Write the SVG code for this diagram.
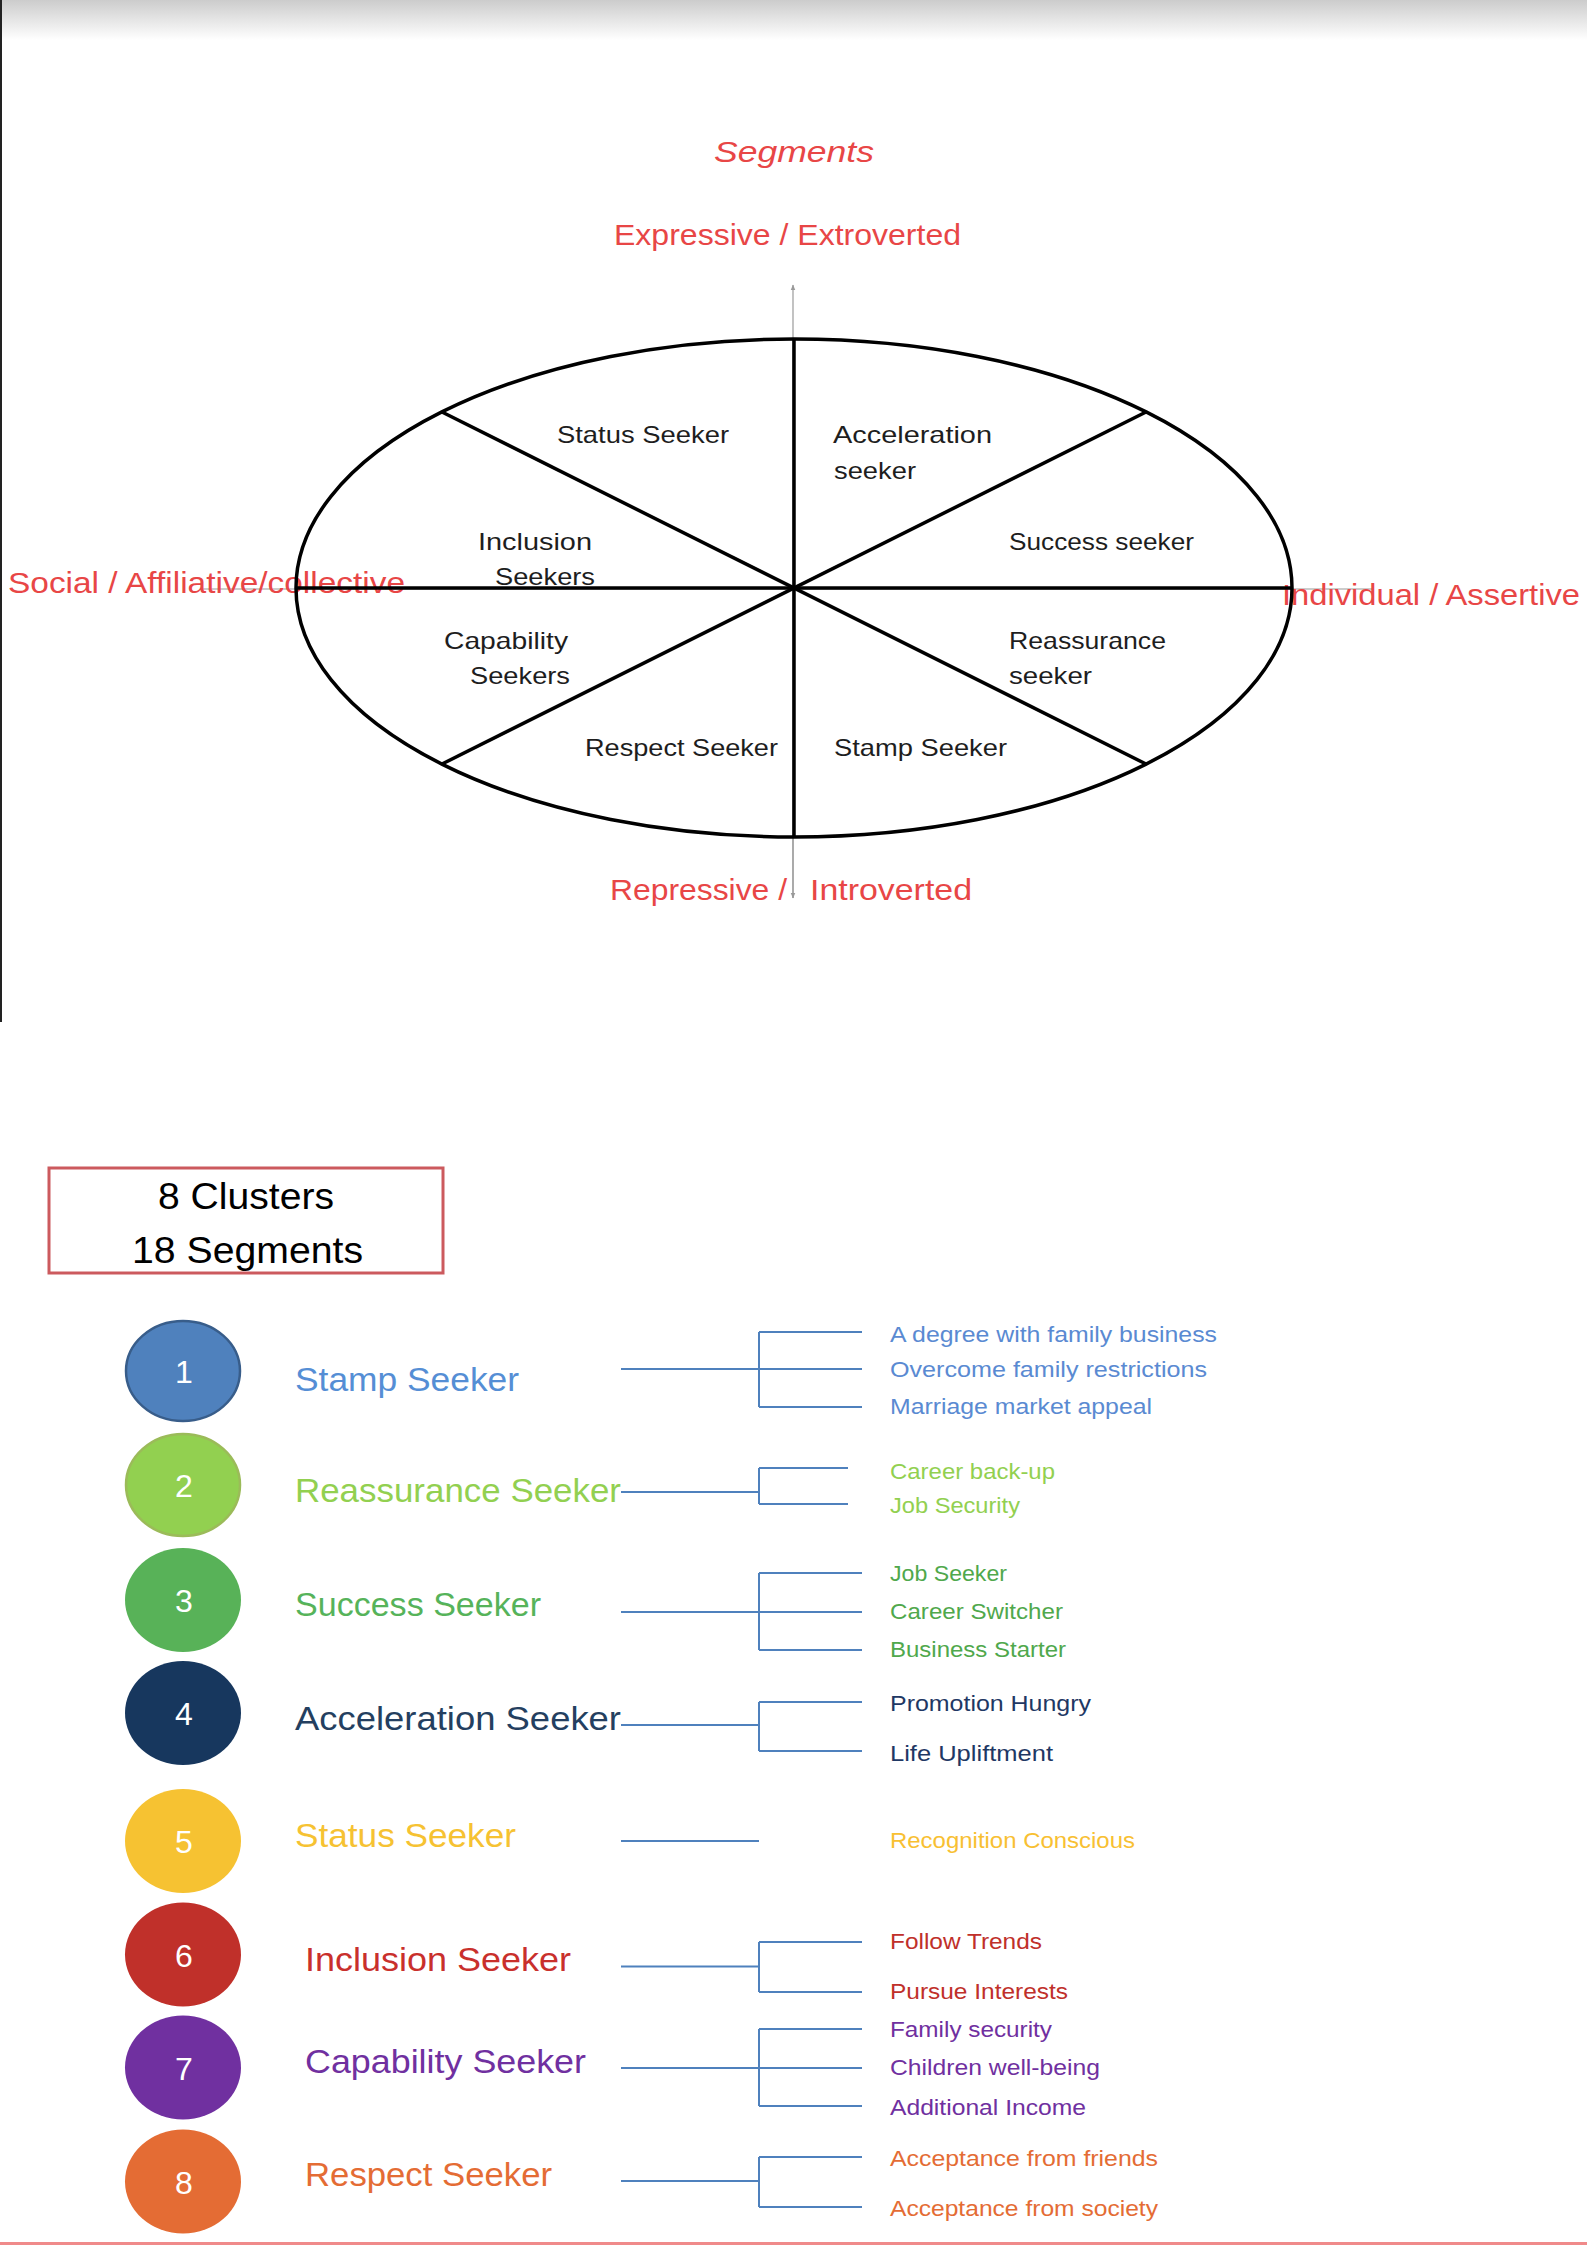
<svg xmlns="http://www.w3.org/2000/svg" width="1587" height="2245" viewBox="0 0 1587 2245">
<defs>
  <linearGradient id="topfade" x1="0" y1="0" x2="0" y2="1">
    <stop offset="0" stop-color="#cccccc"/>
    <stop offset="1" stop-color="#ffffff"/>
  </linearGradient>
  <marker id="garrow" viewBox="0 0 10 10" refX="9" refY="5" markerWidth="6" markerHeight="8" orient="auto" markerUnits="userSpaceOnUse">
    <path d="M0,1 L10,5 L0,9 Z" fill="#999999"/>
  </marker>
</defs>
<style>
  .ax { font-family: "Liberation Sans", Arial, sans-serif; font-size: 30px; fill: #E84646; }
  .seg { font-family: "Liberation Sans", Arial, sans-serif; font-size: 24px; fill: #1e1e1e; }
  .lbl { font-family: "Liberation Sans", Arial, sans-serif; font-size: 34px; }
  .sub { font-family: "Liberation Sans", Arial, sans-serif; font-size: 22px; }
  .num { font-family: "Liberation Sans", Arial, sans-serif; font-size: 32px; fill: #ffffff; text-anchor: middle; }
  .box { font-family: "Liberation Sans", Arial, sans-serif; font-size: 36px; fill: #000000; }
  .thick { stroke: #000000; fill: none; stroke-width: 3.5; }
  .thin { stroke: #9a9a9a; fill: none; stroke-width: 1.2; }
  .con { stroke: #4F81BD; fill: none; stroke-width: 2; }
</style>
<rect x="0" y="0" width="1587" height="2245" fill="#ffffff"/>
<rect x="0" y="0" width="1587" height="40" fill="url(#topfade)"/>
<line x1="1" y1="0" x2="1" y2="1022" stroke="#222222" stroke-width="2"/>

<g id="title">
  <text class="ax" x="714" y="162" font-style="italic" font-size="34" textLength="160" lengthAdjust="spacingAndGlyphs">Segments</text>
</g>

<g id="axes">
  <line class="thin" x1="793" y1="898" x2="793" y2="285" marker-end="url(#garrow)"/>
  <line class="thin" x1="793" y1="340" x2="793" y2="898" marker-end="url(#garrow)"/>
  <line class="thin" x1="200" y1="589" x2="1372" y2="589"/>
  <text class="ax" x="614" y="245" textLength="347" lengthAdjust="spacingAndGlyphs">Expressive / Extroverted</text>
  <text class="ax" x="8" y="593" textLength="397" lengthAdjust="spacingAndGlyphs">Social / Affiliative/collective</text>
  <text class="ax" x="1282" y="605" textLength="298" lengthAdjust="spacingAndGlyphs">Individual / Assertive</text>
  <text class="ax" y="900"><tspan x="610" textLength="177" lengthAdjust="spacingAndGlyphs">Repressive /</tspan><tspan x="810" textLength="162" lengthAdjust="spacingAndGlyphs">Introverted</tspan></text>
</g>

<g id="wheel">
  <ellipse class="thick" cx="794" cy="588" rx="498" ry="249"/>
  <line class="thick" x1="296" y1="588" x2="1292" y2="588" stroke-width="4.5"/>
  <line class="thick" x1="794" y1="339" x2="794" y2="837"/>
  <line class="thick" x1="442" y1="412" x2="1146" y2="764"/>
  <line class="thick" x1="1146" y1="412" x2="442" y2="764"/>
</g>

<g id="wheel-labels">
  <text class="seg" x="557" y="443" textLength="172" lengthAdjust="spacingAndGlyphs">Status Seeker</text>
  <text class="seg" x="833" y="443" textLength="159" lengthAdjust="spacingAndGlyphs">Acceleration</text>
  <text class="seg" x="834" y="479" textLength="82" lengthAdjust="spacingAndGlyphs">seeker</text>
  <text class="seg" x="1009" y="550" textLength="185" lengthAdjust="spacingAndGlyphs">Success seeker</text>
  <text class="seg" x="478" y="550" textLength="114" lengthAdjust="spacingAndGlyphs">Inclusion</text>
  <text class="seg" x="495" y="585" textLength="100" lengthAdjust="spacingAndGlyphs">Seekers</text>
  <text class="seg" x="444" y="649" textLength="124" lengthAdjust="spacingAndGlyphs">Capability</text>
  <text class="seg" x="470" y="684" textLength="100" lengthAdjust="spacingAndGlyphs">Seekers</text>
  <text class="seg" x="1009" y="649" textLength="157" lengthAdjust="spacingAndGlyphs">Reassurance</text>
  <text class="seg" x="1009" y="684" textLength="83" lengthAdjust="spacingAndGlyphs">seeker</text>
  <text class="seg" x="585" y="756" textLength="193" lengthAdjust="spacingAndGlyphs">Respect Seeker</text>
  <text class="seg" x="834" y="756" textLength="173" lengthAdjust="spacingAndGlyphs">Stamp Seeker</text>
</g>

<g id="summary-box">
  <rect x="49" y="1168" width="394" height="105" fill="#ffffff" stroke="#CC5A5E" stroke-width="3"/>
  <text class="box" x="158" y="1209" textLength="176" lengthAdjust="spacingAndGlyphs">8 Clusters</text>
  <text class="box" x="132" y="1263" textLength="231" lengthAdjust="spacingAndGlyphs">18 Segments</text>
</g>

<g id="cluster-1">
  <ellipse cx="183" cy="1371" rx="57" ry="50" fill="#4F81BD" stroke="#385D8A" stroke-width="2.5"/>
  <text class="num" x="184" y="1383">1</text>
  <text class="lbl" x="295" y="1391" fill="#558ED5" textLength="224" lengthAdjust="spacingAndGlyphs">Stamp Seeker</text>
</g>
<g id="cluster-2">
  <ellipse cx="183" cy="1485" rx="57" ry="51" fill="#92D050" stroke="#9BBB59" stroke-width="2.5"/>
  <text class="num" x="184" y="1497">2</text>
  <text class="lbl" x="295" y="1502" fill="#92D050" textLength="326" lengthAdjust="spacingAndGlyphs">Reassurance Seeker</text>
</g>
<g id="cluster-3">
  <ellipse cx="183" cy="1600" rx="58" ry="52" fill="#58B258"/>
  <text class="num" x="184" y="1612">3</text>
  <text class="lbl" x="295" y="1616" fill="#56B35A" textLength="246" lengthAdjust="spacingAndGlyphs">Success Seeker</text>
</g>
<g id="cluster-4">
  <ellipse cx="183" cy="1713" rx="58" ry="52" fill="#17375E"/>
  <text class="num" x="184" y="1725">4</text>
  <text class="lbl" x="295" y="1730" fill="#243F60" textLength="326" lengthAdjust="spacingAndGlyphs">Acceleration Seeker</text>
</g>
<g id="cluster-5">
  <ellipse cx="183" cy="1841" rx="58" ry="52" fill="#F6C232"/>
  <text class="num" x="184" y="1853">5</text>
  <text class="lbl" x="295" y="1847" fill="#F6C232" textLength="221" lengthAdjust="spacingAndGlyphs">Status Seeker</text>
</g>
<g id="cluster-6">
  <ellipse cx="183" cy="1954.5" rx="58" ry="52" fill="#C0302A"/>
  <text class="num" x="184" y="1966.5">6</text>
  <text class="lbl" x="305" y="1971" fill="#C9302C" textLength="266" lengthAdjust="spacingAndGlyphs">Inclusion Seeker</text>
</g>
<g id="cluster-7">
  <ellipse cx="183" cy="2067.5" rx="58" ry="52" fill="#7030A0"/>
  <text class="num" x="184" y="2079.5">7</text>
  <text class="lbl" x="305" y="2073" fill="#7030A0" textLength="281" lengthAdjust="spacingAndGlyphs">Capability Seeker</text>
</g>
<g id="cluster-8">
  <ellipse cx="183" cy="2181.5" rx="58" ry="52" fill="#E46C34"/>
  <text class="num" x="184" y="2193.5">8</text>
  <text class="lbl" x="305" y="2186" fill="#E46C34" textLength="247" lengthAdjust="spacingAndGlyphs">Respect Seeker</text>
</g>

<g id="connectors">
  <path class="con" d="M621 1369 H862 M759 1332 V1407 M759 1332 H862 M759 1407 H862"/>
  <path class="con" d="M621 1492 H759 M759 1468 V1504 M759 1468 H848 M759 1504 H848"/>
  <path class="con" d="M621 1612 H862 M759 1573 V1650 M759 1573 H862 M759 1650 H862"/>
  <path class="con" d="M621 1725 H759 M759 1702 V1751 M759 1702 H862 M759 1751 H862"/>
  <path class="con" d="M621 1841 H759"/>
  <path class="con" d="M621 1966.5 H759 M759 1942 V1992 M759 1942 H862 M759 1992 H862"/>
  <path class="con" d="M621 2068 H862 M759 2029 V2106 M759 2029 H862 M759 2106 H862"/>
  <path class="con" d="M621 2181 H759 M759 2157 V2207 M759 2157 H862 M759 2207 H862"/>
</g>

<g id="sub-segments">
  <text class="sub" x="890" y="1342" fill="#5A8AD2" textLength="327" lengthAdjust="spacingAndGlyphs">A degree with family business</text>
  <text class="sub" x="890" y="1377" fill="#5A8AD2" textLength="317" lengthAdjust="spacingAndGlyphs">Overcome family restrictions</text>
  <text class="sub" x="890" y="1414" fill="#5A8AD2" textLength="262" lengthAdjust="spacingAndGlyphs">Marriage market appeal</text>
  <text class="sub" x="890" y="1479" fill="#92D050" textLength="165" lengthAdjust="spacingAndGlyphs">Career back-up</text>
  <text class="sub" x="890" y="1513" fill="#92D050" textLength="130" lengthAdjust="spacingAndGlyphs">Job Security</text>
  <text class="sub" x="890" y="1581" fill="#50A84C" textLength="117" lengthAdjust="spacingAndGlyphs">Job Seeker</text>
  <text class="sub" x="890" y="1619" fill="#50A84C" textLength="173" lengthAdjust="spacingAndGlyphs">Career Switcher</text>
  <text class="sub" x="890" y="1657" fill="#50A84C" textLength="176" lengthAdjust="spacingAndGlyphs">Business Starter</text>
  <text class="sub" x="890" y="1711" fill="#1F3864" textLength="201" lengthAdjust="spacingAndGlyphs">Promotion Hungry</text>
  <text class="sub" x="890" y="1761" fill="#1F3864" textLength="163" lengthAdjust="spacingAndGlyphs">Life Upliftment</text>
  <text class="sub" x="890" y="1848" fill="#F8C032" textLength="245" lengthAdjust="spacingAndGlyphs">Recognition Conscious</text>
  <text class="sub" x="890" y="1948.5" fill="#C0302A" textLength="152" lengthAdjust="spacingAndGlyphs">Follow Trends</text>
  <text class="sub" x="890" y="1999" fill="#C0302A" textLength="178" lengthAdjust="spacingAndGlyphs">Pursue Interests</text>
  <text class="sub" x="890" y="2037" fill="#7030A0" textLength="162" lengthAdjust="spacingAndGlyphs">Family security</text>
  <text class="sub" x="890" y="2075" fill="#7030A0" textLength="210" lengthAdjust="spacingAndGlyphs">Children well-being</text>
  <text class="sub" x="890" y="2115" fill="#7030A0" textLength="196" lengthAdjust="spacingAndGlyphs">Additional Income</text>
  <text class="sub" x="890" y="2166" fill="#E46C34" textLength="268" lengthAdjust="spacingAndGlyphs">Acceptance from friends</text>
  <text class="sub" x="890" y="2216" fill="#E46C34" textLength="268" lengthAdjust="spacingAndGlyphs">Acceptance from society</text>
</g>

<line x1="0" y1="2243.5" x2="1587" y2="2243.5" stroke="#F08A8A" stroke-width="3"/>
</svg>
